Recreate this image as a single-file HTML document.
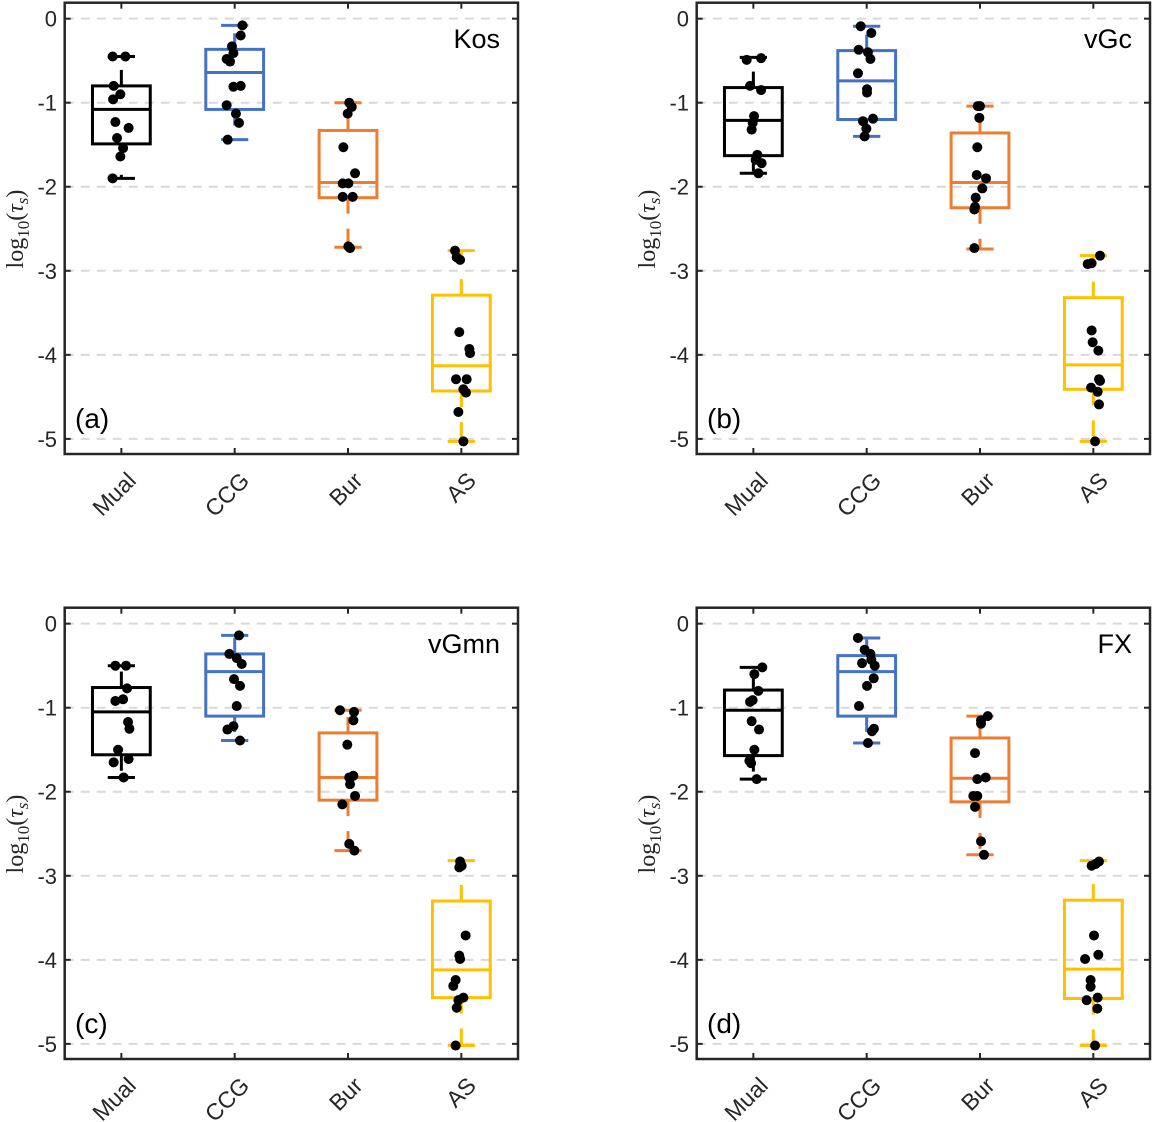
<!DOCTYPE html>
<html><head><meta charset="utf-8"><style>
html,body{margin:0;padding:0;background:#fff;}
svg{display:block;}
text{font-family:"Liberation Sans",sans-serif;fill:#262626;}
</style></head><body>
<svg id="fig" width="1152" height="1122" viewBox="0 0 1152 1122" xmlns="http://www.w3.org/2000/svg"></svg>
<script>
const categories = ["Mual","CCG","Bur","AS"];
const colors = ["#000000","#4472C4","#ED7D31","#FFC000"];
const panelNames = ["Kos","vGc","vGmn","FX"];
const panelLetters = ["(a)","(b)","(c)","(d)"];
const yTicks = [0,-1,-2,-3,-4,-5];
const yTickLabels = ["0","-1","-2","-3","-4","-5"];
// box stats per panel per category: [lowerWhisker, q1, median, q3, upperWhisker]
const statsA = [[-1.90,-1.49,-1.08,-0.80,-0.45],[-1.44,-1.08,-0.64,-0.365,-0.08],[-2.72,-2.13,-1.95,-1.33,-1.00],[-5.03,-4.43,-4.13,-3.29,-2.76]];
const statsB = [[-1.84,-1.63,-1.21,-0.82,-0.46],[-1.40,-1.20,-0.74,-0.38,-0.09],[-2.74,-2.25,-1.95,-1.36,-1.04],[-5.03,-4.41,-4.12,-3.32,-2.82]];
const statsC = [[-1.83,-1.56,-1.05,-0.76,-0.50],[-1.39,-1.10,-0.57,-0.36,-0.14],[-2.70,-2.10,-1.83,-1.30,-1.03],[-5.02,-4.45,-4.12,-3.30,-2.82]];
const statsD = [[-1.85,-1.57,-1.03,-0.79,-0.52],[-1.42,-1.10,-0.57,-0.38,-0.17],[-2.75,-2.12,-1.84,-1.36,-1.10],[-5.02,-4.46,-4.11,-3.29,-2.82]];
// point values per panel per category
const ptsA = [[-0.45,-0.45,-0.80,-0.90,-0.96,-1.23,-1.30,-1.42,-1.54,-1.64,-1.90],
 [-0.08,-0.20,-0.33,-0.41,-0.48,-0.51,-0.81,-0.80,-1.03,-1.13,-1.24,-1.44],
 [-1.00,-1.05,-1.13,-1.53,-1.84,-1.96,-1.96,-2.12,-2.12,-2.71,-2.73],
 [-2.76,-2.84,-2.87,-3.73,-3.93,-3.98,-4.29,-4.29,-4.41,-4.45,-4.68,-5.03]];
const ptsB = [[-0.49,-0.47,-0.80,-0.85,-1.16,-1.24,-1.32,-1.62,-1.72,-1.84,-1.68],
 [-0.09,-0.17,-0.37,-0.40,-0.48,-0.65,-0.84,-0.88,-1.22,-1.19,-1.31,-1.40],
 [-1.04,-1.04,-1.18,-1.53,-1.86,-1.90,-2.02,-2.13,-2.24,-2.27,-2.73],
 [-2.82,-2.92,-2.91,-3.71,-3.85,-3.95,-4.29,-4.31,-4.39,-4.44,-4.59,-5.03]];
const ptsC = [[-0.50,-0.50,-0.77,-0.92,-0.90,-1.17,-1.25,-1.50,-1.65,-1.61,-1.83],
 [-0.14,-0.36,-0.41,-0.48,-0.66,-0.74,-0.98,-1.22,-1.26,-1.39],
 [-1.03,-1.05,-1.15,-1.44,-1.81,-1.83,-1.91,-2.05,-2.15,-2.62,-2.70],
 [-2.83,-2.88,-2.90,-3.71,-3.95,-3.99,-4.24,-4.31,-4.45,-4.48,-4.57,-5.02]];
const ptsD = [[-0.52,-0.60,-0.80,-0.93,-0.91,-1.16,-1.26,-1.50,-1.63,-1.66,-1.85],
 [-0.17,-0.31,-0.36,-0.43,-0.47,-0.50,-0.65,-0.74,-0.98,-1.25,-1.28,-1.42],
 [-1.10,-1.15,-1.19,-1.54,-1.85,-1.83,-2.05,-2.05,-2.18,-2.59,-2.75],
 [-2.83,-2.86,-2.88,-3.71,-3.99,-3.94,-4.24,-4.32,-4.45,-4.48,-4.58,-5.02]];
// horizontal jitter of points (category units)
const jitA = [[-.077,.035,-.068,-.009,-.073,-.053,.064,-.038,.015,-.009,-.077],[.068,.053,-.024,-.011,-.071,-.041,-.011,.053,-.071,.011,.038,-.062],[.011,.033,-.003,-.041,.062,-.047,.003,-.047,.041,.003,.018],[-.056,-.041,-.011,-.018,.071,.077,-.047,.047,.018,.041,-.026,.018]];
const jitB = [[-.059,.068,-.029,.068,.006,-.006,-.015,.035,.073,.044,.020],[-.053,.041,-.071,.011,.033,-.077,.003,.003,-.033,.056,-.003,-.018],[-.020,0,-.006,-.024,-.029,.053,.020,-.038,-.044,-.050,-.050],[.059,-.050,-.015,-.015,-.006,.044,.050,.059,-.020,.038,.050,.015]];
const jitC = [[-.053,.041,.050,-.053,.015,.059,.071,-.029,-.068,.064,.020],[.038,-.047,.018,.062,-.006,.047,.018,-.011,-.064,.047],[-.071,.053,.047,-.006,.047,.011,.018,.062,-.050,.011,.056],[-.011,.003,-.018,.038,-.018,-.011,-.050,-.071,.018,-.026,-.041,-.050]];
const jitD = [[.079,.009,.044,-.029,-.006,-.015,.050,.009,-.035,-.020,.029],[-.077,-.018,.033,.041,-.041,.071,.062,.003,-.068,.064,.047,.011],[.068,.009,.009,-.044,-.024,.050,-.059,-.024,-.044,.009,.035],[.050,.020,-.015,.006,-.073,.044,-.024,-.024,.038,-.059,.035,.015]];

const allStats=[statsA,statsB,statsC,statsD];
const allPts=[ptsA,ptsB,ptsC,ptsD];
const allJit=[jitA,jitB,jitC,jitD];
const NS="http://www.w3.org/2000/svg";
const svg=document.getElementById('fig');
function mk(tag,attrs,parent){const e=document.createElementNS(NS,tag);for(const k in attrs)e.setAttribute(k,attrs[k]);(parent||svg).appendChild(e);return e;}
const offsets=[[0,0],[632,0],[0,605],[632,605]];
const L=64.7,R=518,T=2.7,B=454;
const yMin=-5.18,yMax=0.19;
for(let p=0;p<4;p++){
  const [ox,oy]=offsets[p];
  const g=mk('g',{transform:`translate(${ox},${oy})`});
  
  
  const xS=v=>L+(v-0.5)/4*(R-L);
  const yS=v=>T+(yMax-v)/(yMax-yMin)*(B-T);
  yTicks.forEach((t,i)=>{
    const gl=mk('line',{x1:L,x2:R,y1:yS(t),y2:yS(t),stroke:'#d9d9d9','stroke-width':2,'stroke-dasharray':'9 7'},g);
    
    
    const tl=mk('text',{x:57,y:yS(t)+8,'text-anchor':'end','font-size':22},g);
    tl.textContent=yTickLabels[i];
    
    
    mk('line',{x1:L,x2:L+6,y1:yS(t),y2:yS(t),stroke:'#262626','stroke-width':2},g);
    mk('line',{x1:R-6,x2:R,y1:yS(t),y2:yS(t),stroke:'#262626','stroke-width':2},g);
  });
  const yl=mk('text',{transform:`translate(23,229) rotate(-90)`,'text-anchor':'middle','font-size':24,style:'font-family:"Liberation Serif",serif'},g);
  
  
  yl.innerHTML='log<tspan font-size="17" dy="6">10</tspan><tspan dy="-6">(</tspan><tspan font-style="italic">τ</tspan><tspan font-size="17" font-style="italic" dy="5">s</tspan><tspan dy="-5">)</tspan>';
  categories.forEach((c,i)=>{
    const s=allStats[p][i],col=colors[i],cx=xS(i+1);
    const bg=mk('g',{},g);
    
    
    const hw=(0.51/2)/4*(R-L), cw=(0.24/2)/4*(R-L);
    mk('line',{x1:cx,x2:cx,y1:yS(s[1]),y2:yS(s[0]),stroke:col,'stroke-width':3,'stroke-dasharray':'16 15'},bg);
    mk('line',{x1:cx,x2:cx,y1:yS(s[3]),y2:yS(s[4]),stroke:col,'stroke-width':3,'stroke-dasharray':'16 15'},bg);
    mk('line',{x1:cx-cw,x2:cx+cw,y1:yS(s[0]),y2:yS(s[0]),stroke:col,'stroke-width':3},bg);
    mk('line',{x1:cx-cw,x2:cx+cw,y1:yS(s[4]),y2:yS(s[4]),stroke:col,'stroke-width':3},bg);
    mk('rect',{x:cx-hw,y:yS(s[3]),width:2*hw,height:yS(s[1])-yS(s[3]),fill:'none',stroke:col,'stroke-width':3},bg);
    mk('line',{x1:cx-hw,x2:cx+hw,y1:yS(s[2]),y2:yS(s[2]),stroke:col,'stroke-width':3},bg);
    allPts[p][i].forEach((v,k)=>{
      const d=mk('circle',{cx:xS(i+1+allJit[p][i][k]),cy:yS(v),r:5,fill:'#000'},bg);
      
      
    });
    mk('line',{x1:cx,x2:cx,y1:T,y2:T+6,stroke:'#262626','stroke-width':2},g);
    mk('line',{x1:cx,x2:cx,y1:B-6,y2:B,stroke:'#262626','stroke-width':2},g);
    const xl=mk('text',{transform:`translate(${cx+16},482) rotate(-45)`,'text-anchor':'end','font-size':23},g);
    xl.textContent=c;
    
    
  });
  const fr=mk('rect',{x:L,y:T,width:R-L,height:B-T,fill:'none',stroke:'#262626','stroke-width':2.5},g);
  
  
  const nm=mk('text',{x:500,y:48,'text-anchor':'end','font-size':27,style:'fill:#000'},g);
  nm.textContent=panelNames[p];
  
  
  const lt=mk('text',{x:75,y:428,'font-size':28,style:'fill:#000'},g);
  lt.textContent=panelLetters[p];
  
  
}
</script>
</body></html>
